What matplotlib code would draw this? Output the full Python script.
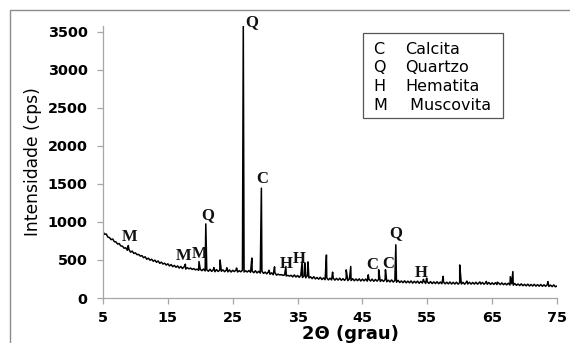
import matplotlib

matplotlib.use("Agg")
import matplotlib.pyplot as plt  # noqa: E402
import numpy as np  # noqa: E402
from matplotlib.patches import Rectangle  # noqa: E402

# background scan, 0.25 deg step from 5 to 75 (one row per degree)
bg_counts = [
    872, 838, 842, 801,   # 5
    795, 768, 776, 741,   # 6
    738, 710, 716, 684,   # 7
    682, 655, 661, 628,   # 8
    638, 603, 617, 586,   # 9
    594, 570, 574, 551,   # 10
    558, 530, 542, 510,   # 11
    524, 497, 510, 484,   # 12
    498, 470, 488, 456,   # 13
    472, 447, 458, 434,   # 14
    450, 422, 440, 412,   # 15
    429, 404, 422, 394,   # 16
    415, 388, 410, 381,   # 17
    398, 384, 394, 376,   # 18
    387, 370, 380, 364,   # 19
    376, 360, 381, 356,   # 20
    370, 352, 378, 350,   # 21
    371, 346, 374, 349,   # 22
    368, 352, 370, 346,   # 23
    366, 344, 369, 342,   # 24
    364, 348, 367, 342,   # 25
    359, 345, 366, 342,   # 26
    358, 342, 362, 338,   # 27
    354, 333, 358, 330,   # 28
    351, 328, 352, 324,   # 29
    341, 318, 343, 312,   # 30
    331, 306, 334, 301,   # 31
    314, 303, 308, 297,   # 32
    305, 290, 298, 287,   # 33
    299, 278, 303, 276,   # 34
    296, 272, 298, 270,   # 35
    290, 266, 292, 264,   # 36
    279, 255, 280, 251,   # 37
    270, 248, 272, 243,   # 38
    264, 241, 266, 238,   # 39
    260, 238, 262, 235,   # 40
    258, 236, 260, 233,   # 41
    254, 232, 258, 229,   # 42
    252, 230, 254, 227,   # 43
    250, 228, 252, 224,   # 44
    248, 226, 250, 222,   # 45
    246, 224, 248, 220,   # 46
    244, 222, 246, 218,   # 47
    240, 218, 242, 214,   # 48
    234, 212, 238, 210,   # 49
    230, 208, 232, 204,   # 50
    224, 202, 226, 200,   # 51
    222, 200, 224, 196,   # 52
    220, 198, 222, 194,   # 53
    218, 196, 220, 192,   # 54
    214, 192, 216, 190,   # 55
    212, 190, 214, 188,   # 56
    210, 188, 212, 186,   # 57
    208, 186, 210, 184,   # 58
    206, 184, 208, 182,   # 59
    204, 184, 206, 182,   # 60
    205, 184, 207, 183,   # 61
    204, 183, 207, 182,   # 62
    203, 183, 205, 181,   # 63
    202, 181, 204, 179,   # 64
    200, 179, 201, 177,   # 65
    197, 177, 199, 175,   # 66
    193, 173, 195, 171,   # 67
    189, 169, 191, 167,   # 68
    184, 164, 186, 162,   # 69
    180, 160, 182, 158,   # 70
    178, 158, 180, 156,   # 71
    176, 156, 178, 154,   # 72
    174, 154, 176, 152,   # 73
    170, 150, 172, 148,   # 74
    158,                  # 75
]
bg_two_theta = np.arange(5, 75.001, 0.25)

# diffraction peaks (2theta, apex counts)
peak_pos = [8.9, 17.7, 19.8, 20.85, 22.1, 23.05, 24.1, 25.6, 26.63, 27.95,
            29.42, 30.6, 31.45, 33.2, 35.7, 36.1, 36.6, 39.45, 40.4, 42.5,
            43.2, 45.9, 47.5, 48.55, 50.15, 54.4, 54.9, 57.45, 60.0, 61.1,
            63.1, 64.1, 65.8, 67.8, 68.2, 73.6]
peak_top = [690, 445, 480, 975, 400, 500, 398, 395, 3585, 525,
            1445, 365, 410, 415, 475, 460, 475, 566, 340, 370,
            415, 305, 372, 372, 700, 245, 262, 285, 435, 222,
            212, 218, 208, 280, 348, 215]

# phase labels placed above peaks
lab_text = ["Q", "C", "Q", "M", "M", "M", "H", "H", "C", "C", "Q", "H"]
lab_x = [27.97, 29.47, 21.19, 9.16, 17.49, 19.96, 33.32, 35.27, 46.58, 48.99, 50.17, 54.13]
lab_y = [3632, 1566, 1092, 805, 553, 579, 447, 509, 434, 447, 855, 332]

leg_keys = ["C", "Q", "H", "M"]
leg_names = ["Calcita", "Quartzo", "Hematita", " Muscovita"]

W, H = 570, 343
fig = plt.figure(figsize=(W / 100, H / 100), dpi=100)
fig.patch.set_facecolor("white")
ax = fig.add_axes([103 / W, 1 - 298 / H, 454 / W, (298 - 25.6) / H])

tt = np.concatenate([bg_two_theta, peak_pos])
counts = np.concatenate([bg_counts, peak_top])
order = np.argsort(tt, kind="stable")
ax.plot(tt[order], counts[order], color="black", lw=1.1)

ax.set_xlim(5, 75)
ax.set_ylim(0, 3584)
ax.set_xticks(range(5, 76, 10))
ax.set_yticks(range(0, 3501, 500))
for s in ("top", "right"):
    ax.spines[s].set_visible(False)
for s in ("left", "bottom"):
    ax.spines[s].set_color("#a6a6a6")
    ax.spines[s].set_linewidth(0.9)
ax.tick_params(axis="both", direction="out", length=4.5, width=0.9, color="#a6a6a6",
               labelsize=10.4)
ax.tick_params(axis="x", pad=4.5)
ax.tick_params(axis="y", pad=6.5)
for lbl in ax.get_xticklabels() + ax.get_yticklabels():
    lbl.set_fontweight("bold")
    lbl.set_family("DejaVu Sans")

ax.set_ylabel("Intensidade (cps)", fontsize=12.3, family="DejaVu Sans", labelpad=4)
fig.text(350 / W, 1 - 334 / H, "2\u0398 (grau)", fontsize=13, fontweight="bold",
         family="DejaVu Sans", ha="center", va="center")

for t, x, y in zip(lab_text, lab_x, lab_y):
    ax.text(x, y, t, fontsize=12, fontweight="bold", family="Liberation Serif",
            ha="center", va="center", color="#111111", clip_on=False)

# legend box
fig.add_artist(Rectangle((363 / W, 1 - 118 / H), 140 / W, 85 / H, transform=fig.transFigure,
                         fill=False, ec="#555555", lw=0.9))
for i, (k, n) in enumerate(zip(leg_keys, leg_names)):
    yc = 1 - (49 + 18.8 * i) / H
    fig.text(373 / W, yc, k, fontsize=11.5, family="DejaVu Sans", va="center", ha="left")
    fig.text(405 / W, yc, n, fontsize=11.5, family="DejaVu Sans", va="center", ha="left")

# outer frame of the picture
fig.add_artist(Rectangle((10 / W, -0.2), 1.2, 1.2 - 10 / H, transform=fig.transFigure,
                         fill=False, ec="#8c8c8c", lw=1.0))

fig.savefig("out.png", dpi=100)
